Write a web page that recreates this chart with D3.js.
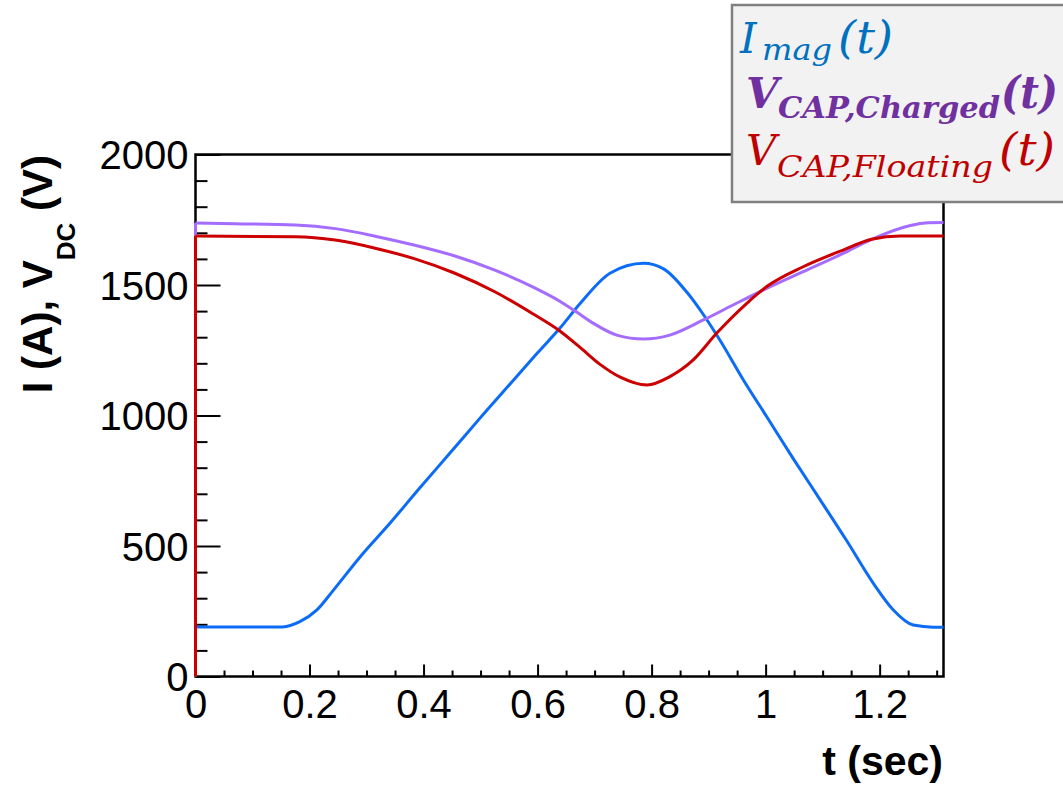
<!DOCTYPE html>
<html>
<head>
<meta charset="utf-8">
<script src="https://cdn.jsdelivr.net/npm/d3@7"></script>
<style>
body { margin: 0; background: #fff; }
svg { display: block; }
</style>
</head>
<body>
<svg id="chart" width="1063" height="786"></svg>
<script>
// values: t in seconds, values in A or V
var imagT = [0, 0.153, 0.183, 0.213, 0.242, 0.289, 0.341, 0.394, 0.446, 0.499, 0.558, 0.600, 0.639, 0.675, 0.727, 0.786, 0.821, 0.862, 0.891, 0.920, 0.961, 1.002, 1.049, 1.096, 1.142, 1.189, 1.224, 1.259, 1.294, 1.312];
var imagV = [190, 190, 210, 255, 331, 459, 587, 724, 855, 990, 1136, 1240, 1334, 1430, 1545, 1583, 1562, 1472, 1386, 1288, 1136, 995, 833, 676, 521, 357, 255, 197, 189, 189];

var chargedT = [0, 0.069, 0.175, 0.245, 0.315, 0.385, 0.455, 0.525, 0.595, 0.639, 0.666, 0.698, 0.739, 0.786, 0.832, 0.891, 0.949, 1.002, 1.066, 1.136, 1.186, 1.254, 1.280, 1.312];
var chargedV = [1738, 1735, 1730, 1716, 1687, 1652, 1611, 1557, 1489, 1438, 1400, 1353, 1308, 1293, 1308, 1366, 1430, 1487, 1551, 1621, 1675, 1728, 1738, 1739];

var floatingT = [0, 0.175, 0.245, 0.315, 0.385, 0.455, 0.525, 0.590, 0.639, 0.674, 0.709, 0.745, 0.792, 0.832, 0.873, 0.914, 0.967, 1.002, 1.066, 1.136, 1.186, 1.236, 1.312];
var floatingV = [1688, 1685, 1672, 1641, 1600, 1545, 1474, 1392, 1324, 1262, 1197, 1147, 1117, 1149, 1213, 1315, 1430, 1494, 1570, 1634, 1675, 1688, 1688];

var xTicks = [0, 0.2, 0.4, 0.6, 0.8, 1, 1.2];
var xTickLabels = ["0", "0.2", "0.4", "0.6", "0.8", "1", "1.2"];
var yTicks = [0, 500, 1000, 1500, 2000];
var yTickLabels = ["0", "500", "1000", "1500", "2000"];

var svg = d3.select("#chart");
svg.append("rect").attr("width", 1063).attr("height", 786).attr("fill", "#fff");

var x = d3.scaleLinear().domain([0, 1.312]).range([195.5, 943.5]);
var y = d3.scaleLinear().domain([0, 2000]).range([676.5, 154.5]);

var axisFont = "'Liberation Sans', Arial, Helvetica, sans-serif";

// minor ticks
var xMinor = d3.range(0, 1.31, 0.05).filter(function(d) { return Math.abs(d / 0.2 - Math.round(d / 0.2)) > 1e-6; });
var yMinor = d3.range(0, 2001, 100).filter(function(d) { return d % 500 != 0; });

svg.append("g").attr("transform", "translate(0,676.5)")
	.call(d3.axisBottom(x).tickValues(xMinor).tickSize(-6).tickFormat(""))
	.call(function(g) { g.select(".domain").remove(); });
svg.append("g").attr("transform", "translate(195.5,0)")
	.call(d3.axisLeft(y).tickValues(yMinor).tickSize(-12).tickFormat(""))
	.call(function(g) { g.select(".domain").remove(); });

var xAxis = svg.append("g").attr("transform", "translate(0,676.5)")
	.call(d3.axisBottom(x).tickValues(xTicks).tickSize(-12).tickPadding(13)
		.tickFormat(function(d, i) { return xTickLabels[i]; }));
xAxis.select(".domain").remove();
xAxis.selectAll("text").attr("font-size", 40).attr("font-family", axisFont).attr("fill", "#000");

var yAxis = svg.append("g").attr("transform", "translate(195.5,0)")
	.call(d3.axisLeft(y).tickValues(yTicks).tickSize(-25).tickPadding(7)
		.tickFormat(function(d, i) { return yTickLabels[i]; }));
yAxis.select(".domain").remove();
yAxis.selectAll("text").attr("font-size", 40).attr("font-family", axisFont).attr("fill", "#000").attr("dy", "0.36em");

svg.selectAll(".tick line").attr("stroke", "#000").attr("stroke-width", 2);

// frame
svg.append("rect")
	.attr("x", x(0)).attr("y", y(2000))
	.attr("width", x(1.312) - x(0)).attr("height", y(0) - y(2000))
	.attr("fill", "none").attr("stroke", "#000").attr("stroke-width", 2.5);

// curves
var line = d3.line()
	.x(function(d) { return x(d[0]); })
	.y(function(d) { return y(d[1]); })
	.curve(d3.curveMonotoneX);
var rise = d3.line()
	.x(function(d) { return x(d[0]); })
	.y(function(d) { return y(d[1]); });

function drawSeries(ts, vs, colour, fromZero) {
	var pts = ts.map(function(t, i) { return [t, vs[i]]; });
	svg.append("path").datum(pts).attr("d", line)
		.attr("fill", "none").attr("stroke", colour).attr("stroke-width", 3);
	if (fromZero) {
		svg.append("path").datum([[0, 0], pts[0]]).attr("d", rise)
			.attr("fill", "none").attr("stroke", colour).attr("stroke-width", 3);
	}
}
drawSeries(imagT, imagV, "#0c6cf5", false);
drawSeries(chargedT, chargedV, "#a46cff", true);
drawSeries(floatingT, floatingV, "#cc0000", true);

// axis titles
svg.append("text")
	.attr("x", 943).attr("y", 775)
	.attr("text-anchor", "end")
	.attr("font-family", axisFont).attr("font-weight", "bold").attr("font-size", 41)
	.text("t (sec)");

var yTitle = svg.append("text")
	.attr("transform", "translate(52,155) rotate(-90)")
	.attr("text-anchor", "end")
	.attr("font-family", axisFont).attr("font-weight", "bold").attr("font-size", 42);
yTitle.append("tspan").text("I (A), V");
yTitle.append("tspan").attr("font-size", 26).attr("dy", 23).text("DC");
yTitle.append("tspan").attr("dy", -23).text(" (V)");

// legend
svg.append("rect")
	.attr("x", 732).attr("y", 5).attr("width", 345).attr("height", 197)
	.attr("fill", "#f2f2f2").attr("stroke", "#808080").attr("stroke-width", 2.5);

var legendFont = "'DejaVu Serif', 'Liberation Serif', serif";
var entries = [
	{ main: "I", sub: "mag", colour: "#0070c0", bold: false,
	  mx: 740, my: 53, sx: 762, sy: 60, sw: 70, px: 838, pw: 55 },
	{ main: "V", sub: "CAP,Charged", colour: "#7030a0", bold: true,
	  mx: 746, my: 108, sx: 778, sy: 118, sw: 222, px: 1001, pw: 57 },
	{ main: "V", sub: "CAP,Floating", colour: "#c00000", bold: false,
	  mx: 746, my: 165, sx: 777, sy: 177, sw: 216, px: 999, pw: 56 }
];
entries.forEach(function(e) {
	var t = svg.append("text")
		.attr("font-family", legendFont).attr("font-style", "italic")
		.attr("font-weight", e.bold ? "bold" : "normal")
		.attr("fill", e.colour);
	t.append("tspan").attr("x", e.mx).attr("y", e.my).attr("font-size", 42).text(e.main);
	t.append("tspan").attr("x", e.sx).attr("y", e.sy).attr("font-size", 29)
		.attr("textLength", e.sw).attr("lengthAdjust", "spacingAndGlyphs").text(e.sub);
	t.append("tspan").attr("x", e.px).attr("y", e.my).attr("font-size", 44)
		.attr("textLength", e.pw).attr("lengthAdjust", "spacingAndGlyphs").text("(t)");
});
</script>
</body>
</html>
